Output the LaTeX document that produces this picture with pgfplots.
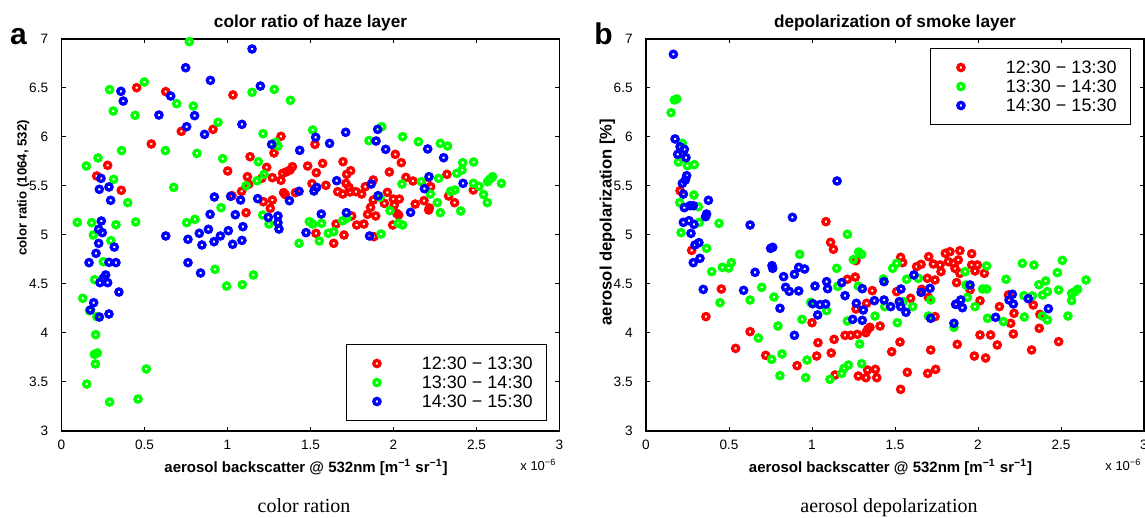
\documentclass[border=0pt]{standalone}
\usepackage{fontspec}
\setmainfont{Liberation Sans}
\newfontfamily\capfont{Liberation Serif}
\usepackage{pgfplots}
\pgfplotsset{compat=1.18}
\pgfplotsset{
 panel/.style={
  scale only axis, width=249pt, height=196pt,
  xmin=0, xmax=3, ymin=3, ymax=7, clip=false,
  xtick={0,0.5,1,1.5,2,2.5,3}, xticklabels={0,0.5,1,1.5,2,2.5,3},
  ytick={3,3.5,4,4.5,5,5.5,6,6.5,7}, yticklabels={3,3.5,4,4.5,5,5.5,6,6.5,7},
  tick align=inside, major tick length=2.2pt,
  every tick/.style={black, line width=0.5pt},
  axis line style={black, line width=0.6pt},
  /pgf/number format/assume math mode=true,
  ticklabel style={font=\fontsize{6.8}{8}\selectfont},
  xticklabel style={anchor=base, yshift=-9.5pt, inner sep=0pt},
  yticklabel style={anchor=east, inner sep=0pt, xshift=-6.5pt},
  every axis title shift=0pt,
  title style={at={(axis description cs:0.5,1.0306)}, anchor=base, inner sep=0pt, font=\fontsize{8.6}{10}\selectfont\bfseries},
  xlabel style={at={(axis description cs:0.491,-0.107)}, anchor=base, inner sep=0pt, font=\fontsize{7.5}{9}\selectfont\bfseries},
  ylabel style={anchor=base, inner sep=0pt},
  legend cell align=left,
  legend style={draw=black, line width=0.5pt, fill=white, inner xsep=0pt, inner ysep=4.75pt,
    font=\fontsize{9}{10}\selectfont, nodes={inner sep=0pt, text depth=0pt}, row sep=0pt},
  legend image code/.code={\draw[##1] plot coordinates {(15pt,0pt)}; \path[draw=none,fill=none] (0pt,-4.75pt) rectangle (37.5pt,4.75pt);},
 },
 rr/.style={only marks, mark=o, mark size=1.55pt, line width=1.65pt, color=red},
 gg/.style={only marks, mark=o, mark size=1.55pt, line width=1.65pt, color=green},
 bb/.style={only marks, mark=o, mark size=1.55pt, line width=1.65pt, color=blue},
}
\begin{document}
\begin{tikzpicture}
% ---------------- panel a ----------------
\begin{axis}[panel, at={(30.75pt,43.5pt)}, anchor=south west,
  title={color ratio of haze layer},
  xlabel={aerosol backscatter @ 532nm [m\textsuperscript{−1} sr\textsuperscript{−1}]},
  ylabel={color ratio (1064, 532)},
  ylabel style={at={(axis description cs:-0.0699,0.62)}, font=\fontsize{6.6}{8}\selectfont\bfseries},
  legend style={at={(axis description cs:0.975,0.0255)}, anchor=south east}]
\addplot[rr] coordinates {
(0.453,6.503) (0.628,6.463) (1.033,6.429) (0.722,6.058) (0.913,6.078) (1.322,6.007) (0.541,5.929) (1.280,5.837) (1.136,5.799) (0.278,5.711) (0.212,5.602) (1.001,5.653) (1.236,5.690) (1.120,5.595) (1.270,5.585) (1.332,5.629) (1.356,5.646) (1.377,5.663) (1.391,5.697) (1.322,5.558) (1.206,5.578) (0.360,5.456) (1.128,5.517) (1.085,5.446) (1.027,5.401) (1.216,5.340) (1.270,5.357) (1.338,5.432) (1.348,5.412) (1.409,5.432) (1.258,5.272)
(1.527,5.925) (2.011,5.823) (2.047,5.738) (1.483,5.704) (1.573,5.731) (1.696,5.748) (1.535,5.636) (1.742,5.656) (1.718,5.619) (1.975,5.643) (2.322,5.619) (2.075,5.588) (2.117,5.551) (2.202,5.534) (1.878,5.561) (1.714,5.527) (1.509,5.524) (1.593,5.507) (1.830,5.493) (1.664,5.442) (1.694,5.418) (1.738,5.439) (1.774,5.442) (1.808,5.418) (1.732,5.486) (2.224,5.493) (2.481,5.459) (2.332,5.398) (2.368,5.330) (2.184,5.350) (2.216,5.276) (2.131,5.316) (1.963,5.435) (1.878,5.357) (2.035,5.367) (1.999,5.367) (1.945,5.323) (2.005,5.306) (1.862,5.282)
(1.112,5.228)
(1.748,5.194) (1.844,5.211) (1.893,5.194) (2.019,5.221) (2.031,5.204) (2.212,5.255) (1.533,5.017) (1.654,5.112) (1.640,4.915) (1.702,5.000) (1.778,5.102) (1.822,5.112) (1.882,4.983) (1.995,5.102)
};
\addlegendentry{12:30 − 13:30\hspace*{7pt}}
\addplot[gg] coordinates {
(0.770,6.973) (0.499,6.561) (0.290,6.483) (1.148,6.456) (1.282,6.486) (1.379,6.374) (0.694,6.340) (0.794,6.316) (0.312,6.265) (0.443,6.221) (0.943,6.150) (1.214,6.034) (1.292,5.946) (1.304,5.908) (0.362,5.861) (0.626,5.861) (0.816,5.833) (0.971,5.779) (0.220,5.786) (0.150,5.704) (0.314,5.568) (1.186,5.748) (1.220,5.619) (1.178,5.554) (0.676,5.486) (1.112,5.503) (0.399,5.330) (0.961,5.279)
(1.929,6.105) (1.513,6.071) (2.055,6.003) (1.852,5.963) (2.150,5.952) (2.282,5.935) (2.326,5.908) (2.417,5.738) (2.483,5.745) (2.413,5.663) (2.381,5.629) (2.272,5.578) (2.168,5.544) (2.481,5.527) (2.515,5.497) (2.567,5.544) (2.581,5.571) (2.597,5.595) (2.650,5.527) (2.543,5.412) (2.565,5.330) (2.344,5.446) (2.370,5.459) (2.222,5.418) (2.264,5.330) (2.051,5.520) (1.919,5.384)
(0.095,5.129) (0.182,5.126) (0.328,5.105) (0.447,5.133) (0.754,5.126) (0.804,5.160) (1.212,5.204) (1.250,5.112) (0.192,5.000) (1.431,4.915) (0.298,4.942) (0.252,4.728) (0.925,4.650) (1.156,4.592) (0.995,4.479) (1.089,4.493) (0.200,4.544) (0.128,4.354) (0.168,4.228) (0.212,4.167) (0.206,3.983) (0.198,3.782) (0.216,3.796) (0.204,3.684) (0.511,3.633) (0.152,3.479) (0.290,3.296) (0.461,3.326)
(1.979,5.248) (2.282,5.228) (2.405,5.245) (1.493,5.136) (1.513,5.112) (1.567,5.119) (1.553,4.939) (1.607,5.017) (1.640,5.034) (1.694,5.146) (1.718,5.170) (1.925,5.010) (2.029,5.119) (2.055,5.102)
};
\addlegendentry{13:30 − 14:30\hspace*{7pt}}
\addplot[bb] coordinates {
(1.148,6.898) (0.748,6.707) (0.897,6.578) (0.358,6.466) (0.372,6.367) (0.658,6.418) (1.198,6.520) (0.587,6.224) (0.802,6.218) (1.087,6.129) (0.754,6.105) (0.862,6.027) (1.266,5.925) (1.435,5.864) (0.238,5.578) (0.228,5.466) (0.286,5.490) (1.019,5.395) (0.921,5.388) (1.079,5.357) (1.182,5.371) (1.431,5.446) (1.373,5.350) (0.296,5.354)
(1.905,6.078) (1.712,6.048) (1.531,5.997) (1.615,5.935) (1.895,5.959) (1.953,5.874) (2.206,5.878) (2.302,5.789) (2.214,5.595) (1.658,5.554) (1.537,5.486) (1.521,5.449) (1.866,5.520) (2.186,5.473) (2.419,5.527) (1.907,5.401)
(0.240,5.143) (0.895,5.211) (1.047,5.207) (1.246,5.180) (1.304,5.194) (1.304,5.126) (1.310,5.061) (0.224,5.058) (0.246,5.024) (0.628,4.990) (0.762,4.956) (0.830,5.017) (0.885,5.058) (0.846,4.898) (0.919,4.932) (0.957,4.990) (1.005,5.044) (1.031,4.905) (1.087,4.945) (1.093,5.085) (0.224,4.915) (0.318,4.877) (0.208,4.813) (0.166,4.718) (0.286,4.721) (0.328,4.718) (0.762,4.718) (0.838,4.612) (0.266,4.592) (0.252,4.558) (0.232,4.514) (0.278,4.514) (0.346,4.418) (0.194,4.309) (0.174,4.235) (0.228,4.163) (0.286,4.194)
(1.565,5.214) (1.716,5.228) (2.103,5.231) (1.473,5.024) (1.856,4.990)
};
\addlegendentry{14:30 − 15:30\hspace*{7pt}}
\end{axis}
% ---------------- panel b ----------------
\begin{axis}[panel, at={(323pt,43.5pt)}, anchor=south west,
  title={depolarization of smoke layer},
  xlabel={aerosol backscatter @ 532nm [m\textsuperscript{−1} sr\textsuperscript{−1}]},
  ylabel={aerosol depolarization [\%]},
  ylabel style={at={(axis description cs:-0.0689,0.533)}, font=\fontsize{8.3}{10}\selectfont\bfseries},
  legend style={at={(axis description cs:0.974,0.977)}, anchor=north east}]
\addplot[rr] coordinates {
(0.205,5.452)
(1.084,5.136) (1.112,4.925) (1.129,4.854) (0.275,4.843) (1.265,4.738) (1.213,4.548) (1.261,4.571) (0.454,4.449) (1.363,4.432) (1.329,4.303) (1.265,4.245) (0.361,4.167) (1.000,4.105) (1.349,4.058) (1.335,4.037) (1.410,4.071) (1.325,4.003) (1.273,3.986) (1.233,3.976) (1.199,3.976) (0.627,4.014) (1.133,3.935) (1.036,3.901) (0.540,3.843) (0.721,3.772) (1.116,3.796) (1.028,3.765) (0.910,3.667) (1.139,3.571) (1.335,3.622) (1.382,3.629) (1.279,3.561) (1.325,3.544) (1.390,3.544)
(1.534,4.772) (1.546,4.718) (1.703,4.779) (1.630,4.677) (1.657,4.701) (1.731,4.704) (1.771,4.694) (1.777,4.626) (1.803,4.813) (1.831,4.830) (1.891,4.840) (1.962,4.809) (1.821,4.728) (1.851,4.711) (1.881,4.745) (1.861,4.660) (1.891,4.609) (1.962,4.694) (1.996,4.694) (1.982,4.633) (2.038,4.609) (1.695,4.558) (1.741,4.541) (1.871,4.514) (1.952,4.439) (1.510,4.422) (1.661,4.446) (1.701,4.364) (1.594,4.354) (1.741,4.167) (1.871,4.296) (2.012,4.330) (2.129,4.269) (2.197,4.099) (2.217,4.201) (2.183,4.388) (2.333,4.286) (2.373,4.190) (2.012,3.980) (2.076,3.980) (2.116,3.878) (2.213,3.990) (2.369,4.048) (2.486,3.912) (2.323,3.827) (1.978,3.765) (2.046,3.745) (1.875,3.884) (1.715,3.827) (1.530,3.908) (1.480,3.809) (1.574,3.599) (1.697,3.588) (1.745,3.629) (1.534,3.425)
};
\addlegendentry{12:30 − 13:30\hspace*{7pt}}
\addplot[gg] coordinates {
(0.171,6.378) (0.185,6.388) (0.151,6.248) (0.219,5.935) (0.195,5.745) (0.249,5.707) (0.291,5.718) (0.289,5.408) (0.203,5.330) (0.315,5.289)
(0.321,5.129) (0.440,5.119) (0.211,5.024) (1.213,5.007) (0.365,4.864) (0.926,4.803) (1.281,4.826) (1.299,4.803) (1.249,4.748) (0.396,4.626) (0.460,4.670) (0.498,4.663) (0.514,4.718) (1.149,4.660) (0.697,4.466) (1.155,4.476) (1.279,4.479) (0.446,4.309) (0.627,4.337) (0.771,4.367) (0.992,4.313) (1.088,4.228) (1.380,4.173) (1.213,4.122) (0.940,4.139) (0.795,4.071) (0.677,3.949) (1.287,3.888) (0.757,3.731) (0.819,3.786) (0.970,3.724) (1.219,3.673) (1.193,3.639) (1.179,3.588) (1.299,3.687) (0.807,3.565) (0.962,3.544) (1.108,3.527)
(1.510,4.711) (1.486,4.660) (1.922,4.626) (2.052,4.684) (1.430,4.551) (1.570,4.548) (1.641,4.558) (1.928,4.490) (1.715,4.337) (1.550,4.320) (1.438,4.269) (1.606,4.269) (1.701,4.173) (1.514,4.105) (1.855,4.058) (1.936,4.364) (1.982,4.269) (2.028,4.449) (2.052,4.449) (2.058,4.150) (2.153,4.116) (2.169,4.548) (2.267,4.711) (2.337,4.694) (2.277,4.381) (2.327,4.378) (2.279,4.163) (2.388,4.173) (2.418,4.133) (2.367,4.493) (2.408,4.531) (2.389,4.388) (2.418,4.422) (2.508,4.741) (2.478,4.616) (2.486,4.439) (2.564,4.405) (2.584,4.422) (2.600,4.446) (2.564,4.330) (2.651,4.541) (2.542,4.173)
};
\addlegendentry{13:30 − 14:30\hspace*{7pt}}
\addplot[bb] coordinates {
(0.165,6.844) (0.175,5.980) (0.205,5.901) (0.231,5.874) (0.191,5.823) (0.241,5.789) (0.245,5.605) (0.237,5.561) (0.219,5.527) (0.225,5.418) (0.376,5.354) (0.231,5.279) (0.265,5.299) (0.285,5.299) (1.151,5.551)
(0.365,5.214) (0.359,5.187) (0.225,5.129) (0.259,5.146) (0.289,5.109) (0.627,5.102) (0.882,5.180) (0.271,5.017) (0.295,4.898) (0.319,4.922) (0.325,4.762) (0.285,4.718) (0.751,4.864) (0.763,4.874) (0.657,4.619) (0.759,4.687) (0.763,4.660) (0.829,4.575) (0.894,4.599) (0.920,4.670) (0.956,4.653) (0.345,4.445) (0.588,4.435) (0.841,4.466) (0.863,4.425) (0.920,4.429) (1.018,4.479) (1.088,4.524) (1.094,4.452) (1.179,4.514) (1.303,4.452) (0.807,4.252) (1.004,4.299) (1.048,4.289) (1.082,4.296) (1.034,4.184) (1.199,4.381) (1.267,4.303) (1.309,4.235) (1.376,4.330) (1.245,4.139) (1.303,4.129) (0.894,3.976)
(1.434,4.524) (1.614,4.592) (1.952,4.490) (1.536,4.449) (1.657,4.415) (1.711,4.456) (1.434,4.337) (1.474,4.269) (1.526,4.320) (1.534,4.269) (1.566,4.211) (1.715,4.150) (1.855,4.099) (1.865,4.292) (1.896,4.337) (1.906,4.258) (2.106,4.160) (2.207,4.395) (2.187,4.337) (2.213,4.296) (2.303,4.350) (2.424,4.248)
};
\addlegendentry{14:30 − 15:30\hspace*{7pt}}
\end{axis}
% ---------------- free text ----------------
\node[anchor=base, inner sep=0pt, font=\fontsize{15}{17}\selectfont\bfseries] at (9.25pt,236.5pt) {a};
\node[anchor=base, inner sep=0pt, font=\fontsize{15}{17}\selectfont\bfseries] at (301.75pt,236.5pt) {b};
\node[anchor=base west, inner sep=0pt, font=\fontsize{6.5}{8}\selectfont] at (260pt,23.5pt) {x 10\textsuperscript{−6}};
\node[anchor=base west, inner sep=0pt, font=\fontsize{6.5}{8}\selectfont] at (552.5pt,23.5pt) {x 10\textsuperscript{−6}};
\node[anchor=base, inner sep=0pt, font=\capfont\fontsize{10}{12}\selectfont] at (152pt,2.5pt) {color ration};
\node[anchor=base, inner sep=0pt, font=\capfont\fontsize{10}{12}\selectfont] at (444.5pt,2.5pt) {aerosol depolarization};
\pgfresetboundingbox
\useasboundingbox (0pt,0pt) rectangle (572.5pt,259pt);
\end{tikzpicture}
\end{document}
